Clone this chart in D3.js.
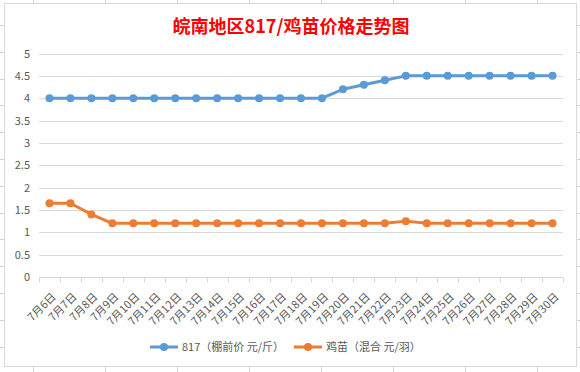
<!DOCTYPE html>
<html>
<head>
<meta charset="utf-8">
<script src="https://cdn.jsdelivr.net/npm/d3@7"></script>
<style>
  html, body { margin: 0; padding: 0; background: #fff; }
  svg { display: block; }
  text { font-family: "Noto Sans CJK SC", "Noto Sans", sans-serif; }
</style>
</head>
<body>
<svg id="chart" width="580" height="372"></svg>
<script>
const categories = ["7月6日","7月7日","7月8日","7月9日","7月10日","7月11日","7月12日","7月13日","7月14日","7月15日","7月16日","7月17日","7月18日","7月19日","7月20日","7月21日","7月22日","7月23日","7月24日","7月25日","7月26日","7月27日","7月28日","7月29日","7月30日"];
const series817 = [4,4,4,4,4,4,4,4,4,4,4,4,4,4,4.2,4.3,4.4,4.5,4.5,4.5,4.5,4.5,4.5,4.5,4.5];
const seriesChick = [1.65,1.65,1.4,1.2,1.2,1.2,1.2,1.2,1.2,1.2,1.2,1.2,1.2,1.2,1.2,1.2,1.2,1.25,1.2,1.2,1.2,1.2,1.2,1.2,1.2];
const yTicks = [0,0.5,1,1.5,2,2.5,3,3.5,4,4.5,5];
const seriesNames = ["817（棚前价 元/斤）","鸡苗（混合 元/羽）"];
const colors = ["#5B9BD5","#ED7D31"];
const title = "皖南地区817/鸡苗价格走势图";

const svg = d3.select("#chart");
const W = 580, H = 372;

// spreadsheet background grid
const bg = svg.append("g");
const colLines = d3.range(33, W, 72);
const rowLines = d3.range(25, H, 26.8);
bg.selectAll("line.c").data(colLines).join("line")
  .attr("x1", d => d + 0.5).attr("x2", d => d + 0.5).attr("y1", 0).attr("y2", H)
  .attr("stroke", "#d4d4d4");
bg.selectAll("line.r").data(rowLines).join("line")
  .attr("y1", d => Math.round(d) + 0.5).attr("y2", d => Math.round(d) + 0.5).attr("x1", 0).attr("x2", W)
  .attr("stroke", "#d4d4d4");

// chart frame
svg.append("rect").attr("x", 4.5).attr("y", 3.5).attr("width", 572).attr("height", 363)
  .attr("fill", "#fff").attr("stroke", "#d9d9d9");

// title
svg.append("text").attr("x", 291).attr("y", 33).attr("text-anchor", "middle")
  .attr("font-size", 18).attr("font-weight", "bold").attr("fill", "#ff0000").text(title);

const x = d3.scaleBand().domain(categories).range([39, 563]).padding(0);
const y = d3.scaleLinear().domain([0, 5]).range([277, 53.5]);

// gridlines
svg.append("g").selectAll("line").data(yTicks.filter(d => d > 0)).join("line")
  .attr("x1", 39).attr("x2", 563)
  .attr("y1", d => Math.round(y(d)) + 0.5).attr("y2", d => Math.round(y(d)) + 0.5)
  .attr("stroke", "#d9d9d9");

// y axis
const yAxis = d3.axisLeft(y).tickValues(yTicks).tickSize(0).tickPadding(9).tickFormat(d3.format("~g"));
const gy = svg.append("g").attr("transform", "translate(39,0)").call(yAxis);
gy.select(".domain").remove();
gy.selectAll("text").attr("font-size", 11).attr("fill", "#595959").attr("font-family", "'Open Sans', 'Noto Sans', sans-serif");

// x axis
const xAxis = d3.axisBottom(x).tickSize(0).tickFormat(d => d);
const gx = svg.append("g").attr("transform", `translate(0,${Math.round(y(0)) + 0.5})`).call(xAxis);
gx.select(".domain").attr("stroke", "#d9d9d9").attr("d", "M39,0H563");
// boundary ticks
const bounds = categories.map(c => x(c)).concat([x(categories[categories.length - 1]) + x.bandwidth()]);
gx.selectAll("line.bt").data(bounds).join("line").attr("class", "bt")
  .attr("x1", d => Math.round(d) + 0.5).attr("x2", d => Math.round(d) + 0.5)
  .attr("y1", 0).attr("y2", 5).attr("stroke", "#d9d9d9");
gx.selectAll(".tick text")
  .attr("font-size", 11).attr("fill", "#595959")
  .attr("text-anchor", "end")
  .attr("y", 0).attr("dy", 0)
  .attr("transform", "translate(7,20) rotate(-45)");

// lines
const allSeries = [series817, seriesChick];
const line = d3.line().x((d, i) => x(categories[i]) + x.bandwidth() / 2).y(d => y(d));
allSeries.forEach((s, k) => {
  svg.append("path").datum(s).attr("d", line).attr("fill", "none")
    .attr("stroke", colors[k]).attr("stroke-width", 3).attr("stroke-linejoin", "round");
  svg.append("g").selectAll("circle").data(s).join("circle")
    .attr("cx", (d, i) => x(categories[i]) + x.bandwidth() / 2)
    .attr("cy", d => y(d)).attr("r", 4).attr("fill", colors[k]);
});

// legend
const legendItems = [{x: 150, tx: 182}, {x: 294, tx: 326}];
legendItems.forEach((p, k) => {
  const g = svg.append("g");
  g.append("line").attr("x1", p.x).attr("x2", p.x + 28).attr("y1", 347).attr("y2", 347)
    .attr("stroke", colors[k]).attr("stroke-width", 3);
  g.append("circle").attr("cx", p.x + 14).attr("cy", 347).attr("r", 4).attr("fill", colors[k]);
  g.append("text").attr("x", p.tx).attr("y", 351).attr("font-size", 11).attr("fill", "#595959").text(seriesNames[k]);
});
</script>
</body>
</html>
